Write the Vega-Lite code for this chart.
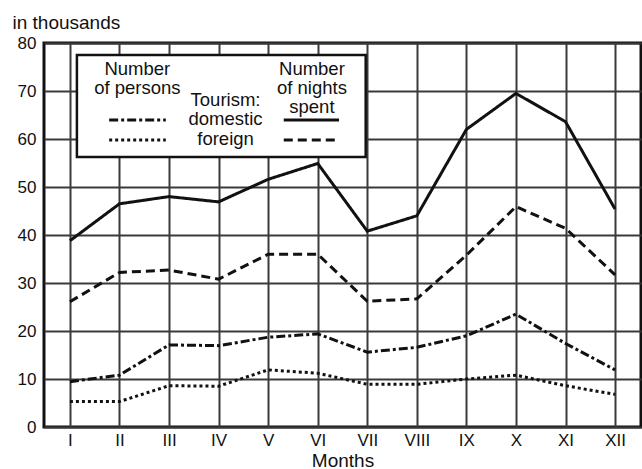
{
  "$schema": "https://vega.github.io/schema/vega-lite/v6.json",
  "width": 597,
  "height": 384,
  "autosize": {"type": "none"},
  "padding": {"left": 44, "top": 43, "right": 1, "bottom": 42},
  "background": "white",
  "config": {
    "font": "Liberation Sans",
    "view": {"stroke": "#111", "strokeWidth": 3},
    "axis": {
      "grid": true, "gridColor": "#3a3a3a", "gridWidth": 2, "gridOpacity": 1,
      "ticks": false, "tickSize": 0, "domain": false,
      "labelFont": "Liberation Sans", "labelFontSize": 17, "labelColor": "#111", "labelOverlap": false,
      "titleFont": "Liberation Sans", "titleFontSize": 19, "titleFontWeight": "normal", "titleColor": "#111"
    }
  },
  "data": {
    "values": [
      {"month": 1, "series": "domestic nights", "value": 38.8},
      {"month": 2, "series": "domestic nights", "value": 46.5},
      {"month": 3, "series": "domestic nights", "value": 48.0},
      {"month": 4, "series": "domestic nights", "value": 46.9},
      {"month": 5, "series": "domestic nights", "value": 51.6},
      {"month": 6, "series": "domestic nights", "value": 54.9},
      {"month": 7, "series": "domestic nights", "value": 40.8},
      {"month": 8, "series": "domestic nights", "value": 44.0},
      {"month": 9, "series": "domestic nights", "value": 62.0},
      {"month": 10, "series": "domestic nights", "value": 69.5},
      {"month": 11, "series": "domestic nights", "value": 63.6},
      {"month": 12, "series": "domestic nights", "value": 45.4},
      {"month": 1, "series": "foreign nights", "value": 26.1},
      {"month": 2, "series": "foreign nights", "value": 32.2},
      {"month": 3, "series": "foreign nights", "value": 32.7},
      {"month": 4, "series": "foreign nights", "value": 30.8},
      {"month": 5, "series": "foreign nights", "value": 36.0},
      {"month": 6, "series": "foreign nights", "value": 36.0},
      {"month": 7, "series": "foreign nights", "value": 26.2},
      {"month": 8, "series": "foreign nights", "value": 26.7},
      {"month": 9, "series": "foreign nights", "value": 35.8},
      {"month": 10, "series": "foreign nights", "value": 45.9},
      {"month": 11, "series": "foreign nights", "value": 41.4},
      {"month": 12, "series": "foreign nights", "value": 31.7},
      {"month": 1, "series": "domestic persons", "value": 9.45},
      {"month": 2, "series": "domestic persons", "value": 10.8},
      {"month": 3, "series": "domestic persons", "value": 17.1},
      {"month": 4, "series": "domestic persons", "value": 16.95},
      {"month": 5, "series": "domestic persons", "value": 18.7},
      {"month": 6, "series": "domestic persons", "value": 19.4},
      {"month": 7, "series": "domestic persons", "value": 15.6},
      {"month": 8, "series": "domestic persons", "value": 16.6},
      {"month": 9, "series": "domestic persons", "value": 19.0},
      {"month": 10, "series": "domestic persons", "value": 23.5},
      {"month": 11, "series": "domestic persons", "value": 17.4},
      {"month": 12, "series": "domestic persons", "value": 11.9},
      {"month": 1, "series": "foreign persons", "value": 5.3},
      {"month": 2, "series": "foreign persons", "value": 5.3},
      {"month": 3, "series": "foreign persons", "value": 8.6},
      {"month": 4, "series": "foreign persons", "value": 8.5},
      {"month": 5, "series": "foreign persons", "value": 11.9},
      {"month": 6, "series": "foreign persons", "value": 11.2},
      {"month": 7, "series": "foreign persons", "value": 8.9},
      {"month": 8, "series": "foreign persons", "value": 8.9},
      {"month": 9, "series": "foreign persons", "value": 10.0},
      {"month": 10, "series": "foreign persons", "value": 10.8},
      {"month": 11, "series": "foreign persons", "value": 8.6},
      {"month": 12, "series": "foreign persons", "value": 6.8}
    ]
  },
  "layer": [
    {
      "mark": {"type": "line", "strokeWidth": 3, "color": "#111", "strokeCap": "butt"},
      "encoding": {
        "x": {
          "field": "month", "type": "quantitative",
          "scale": {"domain": [0.477, 12.523], "nice": false, "zero": false},
          "axis": {
            "values": [1, 2, 3, 4, 5, 6, 7, 8, 9, 10, 11, 12],
            "labelExpr": "['I','II','III','IV','V','VI','VII','VIII','IX','X','XI','XII'][datum.value-1]",
            "title": "Months", "labelPadding": 5, "labelFlush": false,
            "titleBaseline": "alphabetic", "titleY": 39
          }
        },
        "y": {
          "field": "value", "type": "quantitative",
          "scale": {"domain": [0, 80], "nice": false},
          "axis": {
            "values": [0, 10, 20, 30, 40, 50, 60, 70, 80],
            "title": "in thousands", "titleAngle": 0, "titleAlign": "left", "titleBaseline": "alphabetic",
            "titleX": -32, "titleY": -15, "labelPadding": 8
          }
        },
        "strokeDash": {
          "field": "series", "type": "nominal",
          "scale": {
            "domain": ["domestic nights", "foreign nights", "domestic persons", "foreign persons"],
            "range": [[1, 0], [9, 5], [9, 3, 3, 3], [3, 3]]
          },
          "legend": null
        }
      }
    },
    {
      "data": {"values": [{}]},
      "mark": {"type": "rect", "fill": "white", "stroke": "#111", "strokeWidth": 2.5},
      "encoding": {
        "x": {"datum": 1.141}, "x2": {"datum": 6.968},
        "y": {"datum": 77.5}, "y2": {"datum": 56.25}
      }
    },
    {
      "data": {"values": [{}]},
      "mark": {"type": "rule", "strokeWidth": 3, "color": "#111", "strokeDash": [9, 3, 3, 3], "strokeCap": "butt"},
      "encoding": {"x": {"datum": 1.792}, "x2": {"datum": 2.935}, "y": {"datum": 63.96}}
    },
    {
      "data": {"values": [{}]},
      "mark": {"type": "rule", "strokeWidth": 3, "color": "#111", "strokeDash": [3, 3], "strokeCap": "butt"},
      "encoding": {"x": {"datum": 1.792}, "x2": {"datum": 2.935}, "y": {"datum": 59.8}}
    },
    {
      "data": {"values": [{}]},
      "mark": {"type": "rule", "strokeWidth": 3, "color": "#111", "strokeCap": "butt"},
      "encoding": {"x": {"datum": 5.315}, "x2": {"datum": 6.43}, "y": {"datum": 63.96}}
    },
    {
      "data": {"values": [{}]},
      "mark": {"type": "rule", "strokeWidth": 3, "color": "#111", "strokeDash": [9, 5], "strokeCap": "butt"},
      "encoding": {"x": {"datum": 5.315}, "x2": {"datum": 6.43}, "y": {"datum": 59.8}}
    },
    {
      "data": {"values": [{}]},
      "mark": {"type": "text", "fontSize": 18.5, "align": "center", "baseline": "alphabetic", "lineHeight": 19, "color": "#111"},
      "encoding": {"x": {"datum": 2.36}, "y": {"datum": 73.4}, "text": {"value": ["Number", "of persons"]}}
    },
    {
      "data": {"values": [{}]},
      "mark": {"type": "text", "fontSize": 18.5, "align": "center", "baseline": "alphabetic", "lineHeight": 19, "color": "#111"},
      "encoding": {"x": {"datum": 5.883}, "y": {"datum": 73.4}, "text": {"value": ["Number", "of nights", "spent"]}}
    },
    {
      "data": {"values": [{}]},
      "mark": {"type": "text", "fontSize": 18.5, "align": "center", "baseline": "alphabetic", "lineHeight": 19.5, "color": "#111"},
      "encoding": {"x": {"datum": 4.14}, "y": {"datum": 66.9}, "text": {"value": ["Tourism:", "domestic", "foreign"]}}
    }
  ]
}
